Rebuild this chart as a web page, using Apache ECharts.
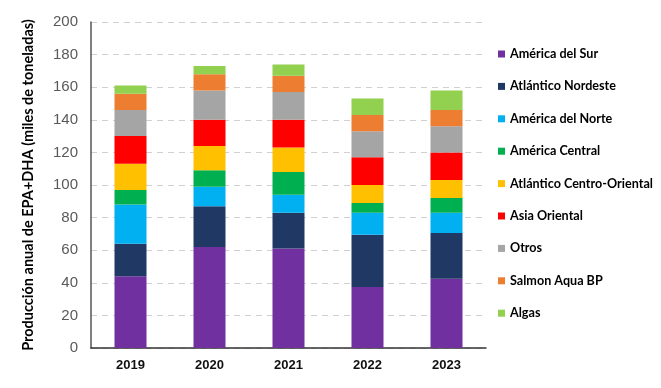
<!DOCTYPE html>
<html><head><meta charset="utf-8">
<script src="https://cdn.jsdelivr.net/npm/echarts@6/dist/echarts.min.js"></script>
<style>html,body{margin:0;padding:0;background:#fff}#c{width:661px;height:388px}</style>
</head><body><div id="c"></div>
<script>
const years = ['2019','2020','2021','2022','2023'];
const seriesNames = ['América del Sur','Atlántico Nordeste','América del Norte','América Central','Atlántico Centro-Oriental','Asia Oriental','Otros','Salmon Aqua BP','Algas'];
const americaSur = [44, 62, 61, 37.5, 42.5];
const atlanticoNordeste = [20, 25, 22, 32, 28];
const americaNorte = [24, 12, 11, 13.5, 12.5];
const americaCentral = [9, 10, 14, 6, 9];
const atlanticoCentroOriental = [16, 15, 15, 11, 11];
const asiaOriental = [17, 16, 17, 17, 17];
const otros = [16, 18, 17, 16, 16];
const salmonAquaBP = [10, 10, 10, 10, 10];
const algas = [5, 5, 7, 10, 12];
const yTicks = [0,20,40,60,80,100,120,140,160,180,200];
const colors = ['#7030A0','#203864','#00B0F0','#00B050','#FFC000','#FF0000','#A5A5A5','#ED7D31','#92D050'];
const values = [americaSur, atlanticoNordeste, americaNorte, americaCentral, atlanticoCentroOriental, asiaOriental, otros, salmonAquaBP, algas];

const chart = echarts.init(document.getElementById('c'));
chart.setOption({
  animation: false,
  grid: {left: 91, right: 175, top: 22, bottom: 40},
  legend: {
    orient: 'vertical', left: 493, top: 42, itemGap: 18.4,
    itemWidth: 7, itemHeight: 7, icon: 'rect',
    data: seriesNames,
    textStyle: {fontFamily: 'Lato', fontWeight: 'bold', fontSize: 12.6, color: '#000', lineHeight: 14}
  },
  xAxis: {
    type: 'category', data: years,
    axisLine: {lineStyle: {color: '#333', width: 1.5}},
    axisTick: {show: false},
    axisLabel: {fontFamily: 'Liberation Sans', fontWeight: 'bold', fontSize: 13, color: '#111', margin: 11}
  },
  yAxis: {
    type: 'value', min: yTicks[0], max: yTicks[yTicks.length-1], interval: 20,
    name: 'Producción anual de EPA+DHA (miles de toneladas)',
    nameLocation: 'middle', nameGap: 55, nameRotate: 90,
    nameTextStyle: {fontFamily: 'Lato', fontWeight: 'bold', fontSize: 14.5, color: '#000'},
    axisLine: {show: true, lineStyle: {color: '#555', width: 1.5}},
    axisTick: {show: false},
    axisLabel: {fontFamily: 'Liberation Sans', fontSize: 15, color: '#595959', margin: 13},
    splitLine: {lineStyle: {color: '#D0D0D0', type: [6, 5]}}
  },
  series: seriesNames.map((n, i) => ({
    name: n, type: 'bar', stack: 'total', data: values[i],
    barWidth: 32, itemStyle: {color: colors[i]}
  }))
});
</script></body></html>
